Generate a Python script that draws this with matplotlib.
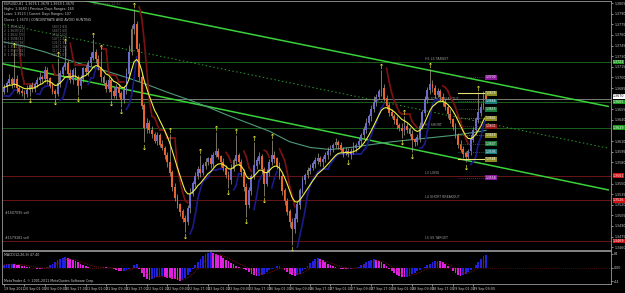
import matplotlib
matplotlib.use("Agg")
import matplotlib.pyplot as plt
import numpy as np

# H1 closes, in pips above 1.3500
close_pips = [
    186, 192, 197, 190, 197, 185, 180, 178, 176, 182, 188, 184, 190, 196, 200, 198,
    210, 198, 188, 180, 176, 192, 205, 214, 220, 205, 196, 210, 200, 188, 198, 212,
    208, 220, 228, 236, 226, 214, 200, 192, 184, 196, 180, 174, 186, 178, 168, 182,
    205, 236, 268, 275, 240, 200, 160, 128, 135, 125, 120, 110, 118, 105, 100, 90,
    80, 65, 45, 30, 20, 10, 0, -5, 15, 35, 50, 60, 70, 65, 75, 80,
    85, 78, 90, 95, 88, 80, 72, 62, 55, 70, 82, 90, 80, 66, 45, 20,
    40, 60, 75, 82, 88, 70, 50, 65, 80, 90, 85, 75, 60, 40, 25, 10,
    -5, -15, 0, 20, 40, 55, 62, 68, 72, 78, 82, 86, 80, 84, 90, 95,
    100, 104, 108, 104, 98, 94, 96, 92, 95, 100, 104, 110, 118, 126, 135, 145,
    155, 165, 172, 180, 185, 170, 160, 150, 145, 140, 132, 128, 124, 130, 126, 120,
    112, 108, 115, 130, 150, 168, 182, 190, 185, 175, 180, 172, 165, 158, 148, 140,
    130, 118, 105, 98, 92, 88, 96, 112, 125, 140, 150, 158, 176, 170,
]
first_open = 180
wick_up = [
    5, 3, 8, 4, 43, 6, 3, 5, 4, 7, 3, 6, 4, 5, 8, 3, 6, 4, 3, 5,
    4, 35, 6, 3, 25, 4, 7, 3, 5, 4, 6, 3, 5, 4, 8, 18, 4, 6, 23, 3,
    5, 4, 3, 6, 4, 5, 3, 6, 8, 10, 6, 22, 5, 8, 6, 4, 7, 5, 6, 3,
    5, 4, 6, 3, 5, 40, 4, 6, 5, 3, 4, 6, 5, 8, 4, 6, 5, 20, 4, 6,
    3, 7, 4, 28, 5, 3, 6, 4, 5, 7, 4, 28, 3, 5, 4, 6, 5, 4, 33, 5,
    6, 4, 3, 5, 4, 21, 6, 3, 5, 4, 3, 5, 4, 6, 8, 5, 4, 6, 3, 5,
    6, 4, 5, 7, 3, 5, 4, 6, 5, 3, 7, 4, 5, 3, 6, 4, 5, 8, 3, 6,
    4, 5, 7, 3, 6, 8, 5, 4, 25, 6, 5, 4, 6, 3, 5, 4, 7, 15, 5, 4,
    6, 3, 5, 7, 4, 6, 5, 22, 6, 4, 5, 3, 6, 4, 5, 7, 3, 5, 4, 6,
    5, 4, 3, 6, 5, 4, 29, 6, 5, 4,
]
wick_dn = [
    4, 6, 3, 5, 4, 7, 3, 5, 6, 4, 8, 4, 5, 3, 6, 4, 5, 7, 3, 4,
    5, 3, 6, 4, 3, 5, 4, 6, 3, 13, 4, 5, 3, 6, 4, 3, 5, 4, 6, 3,
    5, 4, 10, 3, 5, 6, 10, 4, 5, 3, 4, 6, 3, 5, 4, 20, 6, 4, 5, 3,
    6, 4, 3, 5, 7, 4, 6, 5, 4, 6, 5, 13, 4, 6, 3, 5, 4, 6, 3, 5,
    4, 6, 5, 3, 4, 6, 5, 4, 11, 5, 3, 5, 4, 6, 5, 17, 4, 6, 3, 5,
    4, 6, 17, 3, 5, 4, 6, 5, 3, 6, 5, 4, 6, 22, 5, 4, 6, 3, 5, 4,
    5, 3, 6, 4, 5, 7, 3, 5, 4, 6, 4, 5, 3, 6, 4, 5, 7, 3, 5, 4,
    6, 4, 5, 3, 6, 4, 5, 3, 6, 4, 5, 4, 3, 6, 5, 4, 10, 5, 4, 3,
    17, 5, 4, 6, 3, 5, 4, 6, 5, 4, 3, 6, 5, 4, 6, 5, 4, 3, 5, 4,
    6, 8, 4, 5, 3, 6, 4, 5, 3, 4,
]
frac_up = [4, 21, 24, 35, 38, 51, 65, 77, 83, 91, 98, 105, 148, 157, 167, 186]
frac_dn = [10, 20, 29, 42, 46, 55, 71, 88, 95, 102, 113, 135, 156, 160, 181]

# MACD histogram as drawn in the lower panel
macd_vals = [
    10, 12, 14, 15, 13, 11, 9, 7, 5, 3, 2, 0, -2, -5, -7, -4, -1, 3,
    8, 15, 22, 28, 33, 36, 38, 36, 33, 29, 24, 19, 14, 9, 5, 2,
    0, -2, -3, -2, 0, 2, 1, -1, -3, -6, -10, -13, -15, -14, -10, -6, -2,
    8, 14, -5, -22, -35, -42,
    -46, -44, -40, -36, -34, -33, -35, -38, -40, -42, -44,
    -48, -50, -46, -38, -28, -16, -5,
    8, 20, 32, 42, 50, 56, 58, 56, 52, 47, 42, 36, 30, 24, 18, 12, 7, 3, 0, -4, -10,
    -18, -25, -30, -33, -32, -28, -23, -17, -11, -6, -2, 4, 6,
    0, -8, -16, -24, -30, -33, -30, -24, -15,
    -5, 6, 16, 26, 32, 35, 33, 28, 22, 15, 8,
    4, 1, -2, -4, -6, -7, -6, -4, -2, 0, 3,
    8, 14, 20, 26, 30, 32, 30, 26, 20,
    12, 4, -6, -14, -22, -28, -33, -36, -37, -35, -31, -26, -20, -14, -8, -2, 3,
    8, 14, 20, 24, 26, 24, 19, 12, 5, -3,
    -12, -20, -27, -31, -30, -25, -18, -10, -2,
    8, 20, 32, 42, 47.4,
]

# slow moving average (bar index, pips)
slow_idx = [0, 8, 16, 24, 32, 40, 48, 56, 64, 72, 80, 88, 96, 104, 112, 120,
            128, 136, 144, 152, 160, 168, 176, 184, 189]
slow_pips = [250, 244, 236, 226, 217, 209, 200, 190, 179, 169, 158, 146, 135, 124,
             109, 101, 98, 101, 105, 109, 112, 115, 118, 122, 125]

# trend channel (bar index ends, pips)
chan_x = [-1.6, 236.9]
chan_upper = [332.8, 159]
chan_lower = [220, 41]

# pivot levels (pips, label, colour)
level_pips = [221.5, 165, 129, 61, 26, -31]
level_names = ["H5 LS TARGET", "H4 LONG BREAKOUT", "H3 SHORT", "L3 LONG",
               "L4 SHORT BREAKOUT", "L5 SS TARGET"]
level_cols = ["#1f6e1f", "#1f6e1f", "#1f6e1f", "#7a1818", "#7a1818", "#7a1818"]
level_tag = ["#1a9a1a", "#1a9a1a", "#1a9a1a", "#d01010", "#d01010", "#d01010"]

# projected targets at the right
box_pips = [200, 177.5, 166, 155, 142, 131, 118, 106.5, 95, 84, 58]
box_cols = ["#8a1a9a", "#8a8a20", "#1a7a7a", "#1a7a3a", "#8a8a20", "#9a1a1a",
            "#8a8a20", "#1a7a3a", "#1a7a7a", "#8a8a20", "#8a1a9a"]

date_labels = ["19 Sep 2011", "20 Sep 01:00", "20 Sep 09:00", "20 Sep 17:00",
               "21 Sep 01:00", "21 Sep 09:00", "21 Sep 17:00", "22 Sep 01:00",
               "22 Sep 09:00", "22 Sep 17:00", "23 Sep 01:00", "23 Sep 09:00",
               "23 Sep 17:00", "26 Sep 01:00", "26 Sep 09:00", "26 Sep 17:00",
               "27 Sep 01:00", "27 Sep 09:00", "27 Sep 17:00", "28 Sep 01:00",
               "28 Sep 09:00", "28 Sep 17:00", "29 Sep 01:00", "29 Sep 09:00"]

tickets = ["#1607095 sell", "#1579181 sell"]
ticket_pips = [8, -27]

# small table under the header (left and right columns)
table_left = ["1  1.3655 [12]", "2  1.3639 [25]", "3  1.3612 [33]", "4  1.3598 [41]",
              "5  1.3570 [58]", "6  1.3551 [67]", "7  1.3523 [82]", "8  1.3502 [96]"]
table_right = ["183 [1.83]", "160 [1.60]", "152 [1.52]", "147 [1.47]",
               "131 [1.31]", "128 [1.28]", "117 [1.17]", "107 [1.07]"]

# ---------------------------------------------------------------------------
c = np.array(close_pips, dtype=float)
o = np.concatenate([[first_open], c[:-1]])
hi = np.maximum(o, c) + np.array(wick_up)
lo = np.minimum(o, c) - np.array(wick_dn)
n = len(c)
idx = np.arange(n)


def px(p):
    return 1.35 + np.asarray(p, dtype=float) / 10000.0


def ema(x, span):
    a = 2.0 / (span + 1)
    out = np.empty_like(x)
    out[0] = x[0]
    for i in range(1, len(x)):
        out[i] = a * x[i] + (1 - a) * out[i - 1]
    return out


fast = ema(c, 10)

# step trailing line (red above price in down moves, blue below in up moves)
trend = np.zeros(n)
stop = np.zeros(n)
t, s = 1, lo[0] - 3
for i in range(n):
    h3 = hi[max(0, i - 2):i + 1].max() + 3
    l3 = lo[max(0, i - 2):i + 1].min() - 3
    if t == 1:
        s = max(s, l3)
        if c[i] < s:
            t, s = -1, h3
    else:
        s = min(s, h3)
        if c[i] > s:
            t, s = 1, l3
    trend[i], stop[i] = t, s

macd = np.array(macd_vals, dtype=float)
signal = ema(macd, 6)

FS = 2.3
# ---------------------------------------------------------------------------
fig = plt.figure(figsize=(6.25, 2.93), dpi=100, facecolor="black")
ax = fig.add_axes([2 / 625, 43 / 293, 609 / 625, 249 / 293], facecolor="black")
ax2 = fig.add_axes([2 / 625, 9 / 293, 609 / 625, 33 / 293], facecolor="black")

xl = (-0.8, 238)
ax.set_xlim(xl)
ax.set_ylim(px(-44), px(308))

# channel
ax.plot(chan_x, px(chan_upper), color="#3ad23a", lw=1.1, zorder=2)
ax.plot(chan_x, px(chan_lower), color="#3ad23a", lw=1.1, zorder=2)
ax.plot(chan_x, px((np.array(chan_upper) + np.array(chan_lower)) / 2),
        color="#2f9a2f", lw=0.7, ls=(0, (1.5, 2.5)), zorder=2)

# pivot levels
tag_vals = [px(c[-1] + 3)]
for lv, name, col, tag in zip(level_pips, level_names, level_cols, level_tag):
    ax.axhline(px(lv), color=col, lw=0.6, zorder=1)
    ax.text(165, px(lv + 1.5), name, color="#9a9a9a", fontsize=FS, va="bottom")
    ax.text(1.003, px(lv), f"{px(lv):.4f}", transform=ax.get_yaxis_transform(),
            fontsize=FS, color="white", va="center", ha="left", zorder=9,
            bbox=dict(boxstyle="square,pad=0.08", fc=tag, ec="none"))
    tag_vals.append(px(lv))

# current price
ax.axhline(px(c[-1]), color="#8c8c8c", lw=0.6, zorder=1)
ax.text(1.003, px(c[-1] + 3), f"{px(c[-1]):.4f}", transform=ax.get_yaxis_transform(),
        fontsize=FS, color="black", va="center", ha="left", zorder=9,
        bbox=dict(boxstyle="square,pad=0.06", fc="white", ec="none"))

# slow ma
ax.plot(slow_idx, px(slow_pips), color="#4e9a7a", lw=0.8, zorder=3)

# step line
for i in range(1, n):
    col = "#7a1212" if trend[i] < 0 else "#1a1a8a"
    if trend[i] == trend[i - 1]:
        ax.plot([i - 1, i], px([stop[i - 1], stop[i]]), color=col, lw=1.2, zorder=3)

# candles
bull = c >= o
ax.vlines(idx, px(lo), px(hi), color="#a8a08a", lw=0.5, zorder=4)
ax.bar(idx, px(np.abs(c - o) + 0.6) - 1.35, bottom=px(np.minimum(o, c)), width=0.72,
       color=np.where(bull, "#6c6cc8", "#e8642c"), zorder=5)

# fast ma
ax.plot(idx, px(fast), color="#f0f040", lw=0.8, zorder=6)

# fractal arrows
ax.scatter(frac_up, px(hi[frac_up] + 6), marker=r"$\uparrow$", s=14, color="#f0f040",
           lw=0, zorder=7)
ax.scatter(frac_dn, px(lo[frac_dn] - 6), marker=r"$\downarrow$", s=14, color="#f0f040",
           lw=0, zorder=7)

# target boxes
for bp, bc in zip(box_pips, box_cols):
    ax.plot([178, 188.5], px([bp, bp]), color=bc, lw=0.6, ls=(0, (1, 1.5)), zorder=6)
    ax.text(189, px(bp), f"{px(bp):.4f}", fontsize=2.2, color="white", va="center",
            ha="left", bbox=dict(boxstyle="square,pad=0.2", fc=bc, ec="none"), zorder=8)
ax.plot([178, 188.5], px([177.5, 177.5]), color="#e8e070", lw=0.8, zorder=6)
ax.plot([178, 188.5], px([84, 84]), color="#e8e070", lw=0.8, zorder=6)

# tickets
for tk, tp in zip(tickets, ticket_pips):
    ax.text(0.5, px(tp), tk, fontsize=FS, color="#b0b0b0", va="center")

# header text
header = ["EURUSD,H1  1.3676 1.3678 1.3669 1.3670",
          "Highs: 1.3680 | Previous Days Ranges: 160",
          "Lows: 1.3523 | Current Days Ranges: 107",
          "Closes: 1.3670 | CONCENTRATE AND AVOID HUNTING"]
for k, line in enumerate(header):
    ax.text(0.004, 0.994 - k * 0.02, line, transform=ax.transAxes, fontsize=FS,
            color="#c8c8c8", va="top")
ax.text(0.15, 0.994, "sequences 12/42", transform=ax.transAxes, fontsize=FS,
        color="#555555", va="top")
for k, (tl, tr) in enumerate(zip(table_left, table_right)):
    ax.text(0.004, 0.905 - k * 0.016, tl, transform=ax.transAxes, fontsize=2.1,
            color="#8a8a8a", va="top")
    ax.text(0.082, 0.905 - k * 0.016, tr, transform=ax.transAxes, fontsize=2.1,
            color="#8a8a8a", va="top")

yt = [v for v in 1.3805 - 0.0015 * np.arange(24)
      if min(abs(v - tv) for tv in tag_vals) > 0.00045]
ax.yaxis.tick_right()
ax.set_yticks(yt)
ax.set_yticklabels([f"{v:.4f}" for v in yt])
ax.tick_params(axis="y", colors="#c8c8c8", labelsize=FS, length=1.5, width=0.5, pad=0.8)
ax.set_xticks([])
for sp in ax.spines.values():
    sp.set_color("#9a9a9a")
    sp.set_linewidth(0.6)

# indicator panel
ax2.set_xlim(xl)
ax2.set_ylim(-62, 62)
rising = np.concatenate([[True], np.diff(macd) > 0])
ax2.bar(idx, macd, width=0.7, color=np.where(rising, "#2020e0", "#e020e0"), zorder=3)
ax2.plot(idx, signal, color="#a01818", lw=0.6, ls=(0, (1, 1.2)), zorder=4)
ax2.axhline(0, color="#7a1a1a", lw=0.5, ls=(0, (1, 2)))
ax2.text(0.004, 0.95, f"MACD(12,26,9) {macd[-1]:.2f}", transform=ax2.transAxes,
         fontsize=FS, color="#c8c8c8", va="top")
ax2.text(0.004, 0.04, "MetaTrader 4, © 2001-2011 MetaQuotes Software Corp.",
         transform=ax2.transAxes, fontsize=FS, color="#c8c8c8", va="bottom")
ax2.yaxis.tick_right()
ax2.set_yticks([52, 0, -52])
ax2.set_yticklabels(["84", "0.00", "-44"])
ax2.tick_params(axis="y", colors="#c8c8c8", labelsize=FS, length=1.5, width=0.5, pad=0.8)
ax2.set_xticks(np.arange(0, 8 * len(date_labels), 8))
ax2.set_xticklabels(date_labels, ha="left")
ax2.tick_params(axis="x", colors="#c8c8c8", labelsize=FS, length=1.5, width=0.5, pad=0.5)
for sp in ax2.spines.values():
    sp.set_color("#9a9a9a")
    sp.set_linewidth(0.6)

fig.savefig("out.png", dpi=100, facecolor="black")
